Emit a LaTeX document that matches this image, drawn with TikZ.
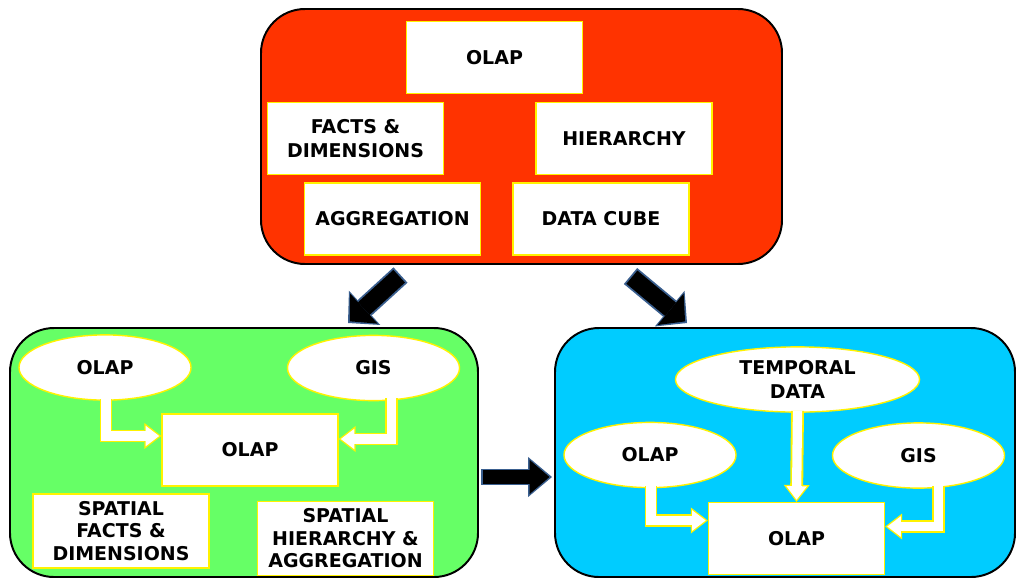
\documentclass[tikz,border=0pt]{standalone}
\usepackage{fontspec}
\setmainfont{DejaVu Sans}
\usepackage{tikz}
\usetikzlibrary{arrows.meta,shapes.geometric,calc}
\definecolor{panelR}{HTML}{FF3300}
\definecolor{panelG}{HTML}{66FF66}
\definecolor{panelB}{HTML}{00CCFF}
\definecolor{edgeK}{HTML}{3A5F8F}

\begin{document}
\begin{tikzpicture}[
          x=0.025cm, y=-0.025cm,
          panel/.style={draw=black, line width=1.4pt, rounded corners=1.1cm},
          box/.style={draw=yellow, fill=white, line width=1pt, inner sep=0pt, align=center,
                      minimum width=4.4cm, minimum height=1.8cm,
                      font=\bfseries\fontsize{13.5}{17.5}\selectfont},
          oval/.style={ellipse, draw=yellow, fill=white, line width=1pt, inner sep=0pt, align=center,
                       minimum width=4.3cm, minimum height=1.63cm,
                       font=\bfseries\fontsize{13.5}{17.5}\selectfont},
          tight/.style={font=\bfseries\fontsize{13.5}{16}\selectfont},
          wOut/.style={draw=yellow, line width=9.2pt, -{Triangle[length=12pt, width=18.5pt, line width=0pt]}},
          wIn/.style={draw=white, line width=6.6pt, shorten >=1.5pt, -{Triangle[length=9.6pt, width=14.6pt, line width=0pt]}},
          kOut/.style={draw=edgeK, line width=12pt, -{Triangle[length=17pt, width=28.5pt, line width=0pt]}},
          kIn/.style={draw=black, line width=9.4pt, shorten >=1.8pt, shorten <=1.3pt, -{Triangle[length=14.2pt, width=24.4pt, line width=0pt]}},
          kOutD/.style={draw=edgeK, line width=14.8pt, -{Triangle[length=16pt, width=33pt, line width=0pt]}},
          kInD/.style={draw=black, line width=12.2pt, shorten >=1.8pt, shorten <=1.3pt, -{Triangle[length=13.4pt, width=29pt, line width=0pt]}}
      ]
        \useasboundingbox (0,0) rectangle (1016,580);

        % Panels
        \draw[panel, fill=panelR] (261,9) rectangle (782,264);
        \draw[panel, fill=panelG] (10,328) rectangle (478,577);
        \draw[panel, fill=panelB] (555,328) rectangle (1015,577);

        % Top panel: OLAP concepts
        \node[box] (olapTop) at (494.5,57.5) {OLAP};
        \node[box] (factsTop) at (355.5,138.5) {FACTS \&\\DIMENSIONS};
        \node[box] (hierTop) at (624,138.5) {HIERARCHY};
        \node[box] (aggrTop) at (392.5,219) {AGGREGATION};
        \node[box] (cubeTop) at (601,219) {DATA CUBE};

        % Left panel: spatial OLAP
        \node[oval] (olapG) at (105,367.5) {OLAP};
        \node[oval] (gisG) at (373.5,368) {GIS};
        \node[box] (coreG) at (250,450) {OLAP};
        \node[box, tight, minimum height=1.85cm] (factsG) at (121,531) {SPATIAL\\FACTS \&\\DIMENSIONS};
        \node[box, tight, minimum height=1.85cm] (hierG) at (345.5,538.5) {SPATIAL\\HIERARCHY \&\\AGGREGATION};

        % Right panel: spatio-temporal OLAP
        \node[oval, minimum width=6.1cm] (tempB) at (797.5,379.5) {TEMPORAL\\DATA};
        \node[oval] (olapB) at (650,455) {OLAP};
        \node[oval] (gisB) at (918.5,455.5) {GIS};
        \node[box] (coreB) at (796.5,538.5) {OLAP};

        % White elbow arrows
        \draw[wOut] ($(olapG.south)+(1,-2)$) |- ($(coreG.west)+(0,-14)$);
        \draw[wIn]  ($(olapG.south)+(1,-2)$) |- ($(coreG.west)+(0,-14)$);
        \draw[wOut] ($(gisG.south)+(18,-3)$) |- ($(coreG.east)+(0,-11)$);
        \draw[wIn]  ($(gisG.south)+(18,-3)$) |- ($(coreG.east)+(0,-11)$);
        \draw[wOut] ($(tempB.south)+(0,-2)$) -- (coreB.north);
        \draw[wIn]  ($(tempB.south)+(0,-2)$) -- (coreB.north);
        \draw[wOut] ($(olapB.south)+(1,-2)$) |- ($(coreB.west)+(0,-18)$);
        \draw[wIn]  ($(olapB.south)+(1,-2)$) |- ($(coreB.west)+(0,-18)$);
        \draw[wOut] ($(gisB.south)+(20,-3)$) |- ($(coreB.east)+(0,-12)$);
        \draw[wIn]  ($(gisB.south)+(20,-3)$) |- ($(coreB.east)+(0,-12)$);

        % Black arrows between panels
        \coordinate (dlFrom) at (400.5,275);
        \coordinate (dlTo) at (348,323);
        \coordinate (drFrom) at (630.5,276);
        \coordinate (drTo) at (687,323);
        \coordinate (hFrom) at (481,477);
        \coordinate (hTo) at (552,477);
        \draw[kOutD] (dlFrom) -- (dlTo);
        \draw[kInD]  (dlFrom) -- (dlTo);
        \draw[kOutD] (drFrom) -- (drTo);
        \draw[kInD]  (drFrom) -- (drTo);
        \draw[kOut] (hFrom) -- (hTo);
        \draw[kIn]  (hFrom) -- (hTo);
      \end{tikzpicture}
\end{document}
